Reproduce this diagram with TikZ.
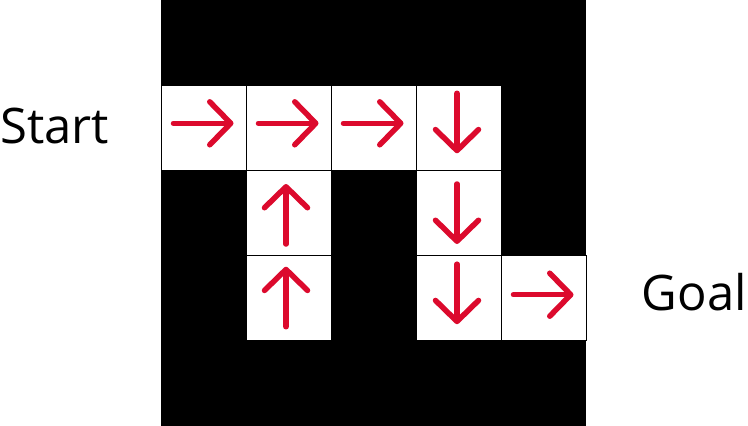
\documentclass[tikz,border=0pt]{standalone}
\usepackage{fontspec}
\setmainfont{Open Sans}
\usetikzlibrary{arrows.meta,positioning}
\definecolor{pathred}{RGB}{220,10,45}

\begin{document}
\begin{tikzpicture}[
  x=1pt, y=-1pt,
  freecell/.style={draw=black, fill=white, line width=0.9pt, minimum width=85pt, minimum height=85.2pt, inner sep=0pt, outer sep=0pt},
  move/.style={pathred, line width=5.5pt, line cap=round, -{Straight Barb[length=21pt, width=43pt, line cap=round, line join=round]}},
  lbl/.style={font=\fontsize{49}{56}\selectfont, inner sep=0pt}
]
  \useasboundingbox (0,0) rectangle (748,426);
  % walls
  \fill[black] (161,0) rectangle (586,426);
  % open cells of the maze (row/col)
  \foreach \r/\c in {1/0,1/1,1/2,1/3,2/1,2/3,3/1,3/3,3/4}
    \node[freecell] (c\r\c) at (203.5+85*\c, 42.6+85.2*\r) {};

  \node[lbl, anchor=base west] (start) at (0,143) {Start};
  \node[lbl, anchor=base east] (goal) at (747,310) {Goal};

  % policy arrows
  \foreach \n/\dy in {c10/-4.5,c11/-4.5,c12/-4.5,c34/-3.5}
    \draw[move] ([shift={(-30,\dy)}]\n.center) -- ([shift={(30,\dy)}]\n.center);
  \foreach \n/\dy in {c13/-4.5,c23/1,c33/-4}
    \draw[move] ([shift={(-1.5,-30+\dy)}]\n.center) -- ([shift={(-1.5,30+\dy)}]\n.center);
  \foreach \n/\dy in {c21/1,c31/-1.5}
    \draw[move] ([shift={(-2.5,30+\dy)}]\n.center) -- ([shift={(-2.5,-30+\dy)}]\n.center);
\end{tikzpicture}
\end{document}
